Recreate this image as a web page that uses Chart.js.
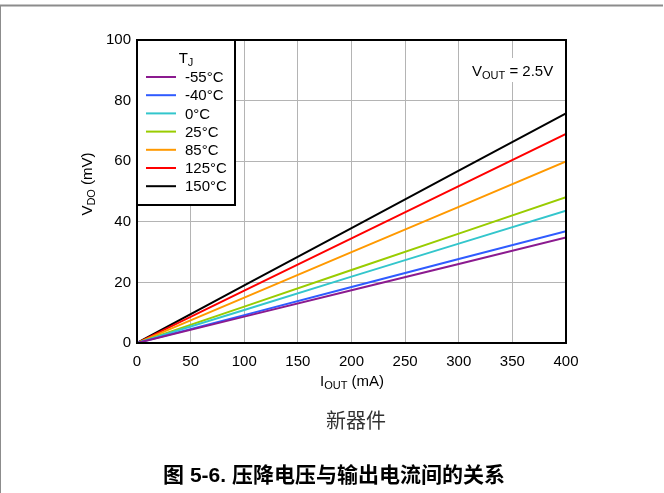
<!DOCTYPE html>
<html>
<head>
<meta charset="utf-8">
<script src="https://cdn.jsdelivr.net/npm/chart.js@4"></script>
<style>
html,body{margin:0;padding:0;background:#fff;}
#wrap{position:relative;width:664px;height:493px;}
canvas{display:block;}
</style>
</head>
<body>
<div id="wrap"><canvas id="c" width="664" height="493"></canvas></div>
<script>
// ---- data ----
const currents = [0, 100, 200, 300, 400];            // IOUT (mA)
const tempLabels = ['-55°C', '-40°C', '0°C', '25°C', '85°C', '125°C', '150°C'];
const vdoM55 = [0, 8.7, 17.4, 26.1, 34.8];
const vdoM40 = [0, 9.2, 18.5, 27.7, 36.9];
const vdo0   = [0, 10.9, 21.9, 32.8, 43.7];
const vdo25  = [0, 12.0, 24.1, 36.1, 48.1];
const vdo85  = [0, 15.0, 30.0, 44.9, 59.9];
const vdo125 = [0, 17.3, 34.5, 51.8, 69.0];
const vdo150 = [0, 19.0, 37.9, 56.9, 75.8];
const yTicks = [0, 20, 40, 60, 80, 100];
const xTicks = [0, 50, 100, 150, 200, 250, 300, 350, 400];

const seriesValues = [vdoM55, vdoM40, vdo0, vdo25, vdo85, vdo125, vdo150];
const colors = ['#8b1a8f', '#2f5bff', '#33c6cc', '#99cc00', '#ff9900', '#ff0000', '#000000'];

const FONT = '"Liberation Sans", Arial, sans-serif';

function drawParts(ctx, parts, x, y, size, align) {
  // parts: [text, isSub]
  const subSize = Math.round(size * 0.72);
  let w = 0;
  parts.forEach(p => { ctx.font = (p[1] ? subSize : size) + 'px ' + FONT; w += ctx.measureText(p[0]).width; });
  let cx = align === 'center' ? x - w / 2 : x;
  ctx.textBaseline = 'alphabetic';
  ctx.textAlign = 'left';
  parts.forEach(p => {
    ctx.font = (p[1] ? subSize : size) + 'px ' + FONT;
    ctx.fillText(p[0], cx, p[1] ? y + size * 0.22 : y);
    cx += ctx.measureText(p[0]).width;
  });
}

const decor = {
  id: 'decor',
  beforeDraw(chart) {
    const ctx = chart.ctx;
    ctx.save();
    ctx.fillStyle = '#fff';
    ctx.fillRect(0, 0, chart.width, chart.height);
    ctx.strokeStyle = '#8c8c8c';
    ctx.lineWidth = 2;
    ctx.beginPath();
    ctx.moveTo(0, 5.5); ctx.lineTo(663, 5.5);
    ctx.stroke();
    ctx.lineWidth = 1;
    ctx.beginPath();
    ctx.moveTo(0.5, 5); ctx.lineTo(0.5, 493);
    ctx.stroke();
    ctx.restore();
  },
  afterDatasetsDraw(chart) {
    const ctx = chart.ctx;
    const a = chart.chartArea;
    ctx.save();
    // legend box
    const lx = a.left, ly = a.top, lw = 98, lh = 165;
    ctx.fillStyle = '#fff';
    ctx.fillRect(lx, ly, lw, lh);
    ctx.strokeStyle = '#000';
    ctx.lineWidth = 2;
    ctx.strokeRect(lx, ly, lw, lh);
    ctx.fillStyle = '#000';
    drawParts(ctx, [['T', false], ['J', true]], 186, 63, 15, 'center');
    chart.data.datasets.forEach((ds, i) => {
      const yy = ly + 37 + i * 18.2;
      ctx.strokeStyle = ds.borderColor;
      ctx.lineWidth = 2;
      ctx.beginPath();
      ctx.moveTo(lx + 9, yy); ctx.lineTo(lx + 39, yy);
      ctx.stroke();
      ctx.fillStyle = '#000';
      ctx.font = '15px ' + FONT;
      ctx.textAlign = 'left';
      ctx.textBaseline = 'middle';
      ctx.fillText(ds.label, lx + 48, yy + 1);
    });
    // annotation
    ctx.fillStyle = '#fff';
    ctx.fillRect(467, 58, 92, 24);
    ctx.fillStyle = '#000';
    drawParts(ctx, [['V', false], ['OUT', true], [' = 2.5V', false]], 472, 76, 15, 'left');
    // frame
    ctx.strokeStyle = '#000';
    ctx.lineWidth = 2;
    ctx.strokeRect(a.left, a.top, a.right - a.left, a.bottom - a.top);
    ctx.restore();
  },
  afterDraw(chart) {
    const ctx = chart.ctx;
    ctx.save();
    ctx.fillStyle = '#000';
    // x axis title
    drawParts(ctx, [['I', false], ['OUT', true], [' (mA)', false]], 352, 386, 15, 'center');
    // y axis title
    ctx.translate(92, 184);
    ctx.rotate(-Math.PI / 2);
    drawParts(ctx, [['V', false], ['DO', true], [' (mV)', false]], 0, 0, 15, 'center');
    ctx.restore();
    ctx.save();
    ctx.textAlign = 'center';
    ctx.textBaseline = 'middle';
    ctx.fillStyle = '#333';
    ctx.font = '20px "Noto Sans CJK SC", sans-serif';
    ctx.fillText('新器件', 356, 420);
    ctx.fillStyle = '#000';
    ctx.font = 'bold 21px "Liberation Sans", "Noto Sans CJK SC", sans-serif';
    ctx.fillText('图 5-6. 压降电压与输出电流间的关系', 334, 476);
    ctx.restore();
  }
};

const datasets = seriesValues.map((vals, i) => ({
  label: tempLabels[i],
  data: currents.map((c, j) => ({ x: c, y: vals[j] })),
  borderColor: colors[i],
  backgroundColor: colors[i],
  borderWidth: 2,
  pointRadius: 0,
  tension: 0,
  fill: false
}));

new Chart(document.getElementById('c'), {
  type: 'line',
  data: { datasets },
  plugins: [decor],
  options: {
    responsive: false,
    animation: false,
    devicePixelRatio: 1,
    layout: { padding: { left: 0, top: 40, right: 98, bottom: 0 } },
    plugins: { legend: { display: false }, tooltip: { enabled: false } },
    scales: {
      x: {
        type: 'linear', min: 0, max: 400,
        afterBuildTicks: s => { s.ticks = xTicks.map(v => ({ value: v })); },
        afterFit: s => { s.height = 150; },
        grid: { color: '#b4b4b4', lineWidth: 1, drawTicks: false },
        border: { display: false },
        ticks: { color: '#000', font: { family: FONT, size: 15 }, padding: 10, maxRotation: 0 }
      },
      y: {
        type: 'linear', min: 0, max: 100,
        afterBuildTicks: s => { s.ticks = yTicks.map(v => ({ value: v })); },
        afterFit: s => { s.width = 137; },
        grid: { color: '#b4b4b4', lineWidth: 1, drawTicks: false },
        border: { display: false },
        ticks: { color: '#000', font: { family: FONT, size: 15 }, padding: 6 }
      }
    }
  }
});
</script>
</body>
</html>
